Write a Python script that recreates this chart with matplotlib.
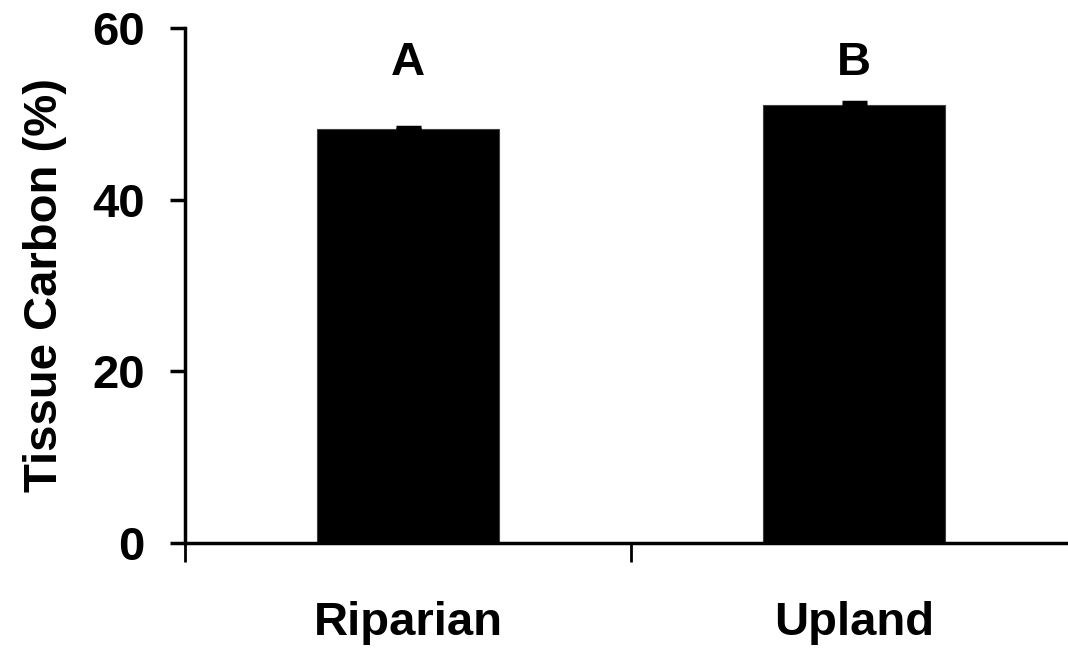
import matplotlib.pyplot as plt
import numpy as np

# Tissue carbon by site type, mean + SE
sites = ['Riparian', 'Upland']
carbon = [48.2, 51.0]
carbon_se = [0.25, 0.4]
letters = ['A', 'B']
yticks = [0, 20, 40, 60]

plt.rcParams['font.family'] = ['Liberation Sans', 'DejaVu Sans']
plt.rcParams['font.weight'] = 'bold'

fig = plt.figure(figsize=(10.68, 6.53), dpi=100)
ax = fig.add_axes([185 / 1068, (653 - 543) / 653, 892 / 1068, (543 - 28) / 653])

x = np.arange(len(sites)) + 0.5
ax.bar(x, carbon, width=0.406, color='black', edgecolor='#404040', linewidth=0.8, zorder=2)
ax.errorbar(x, carbon, yerr=[np.zeros(len(carbon)), carbon_se], fmt='none',
            ecolor='black', elinewidth=2, capsize=9, capthick=2.5, zorder=3)

for xi, lab in zip(x, letters):
    ax.text(xi, 55.9, lab, ha='center', va='center', fontsize=34, fontweight='bold')

ax.set_xlim(0, len(sites))
ax.set_ylim(0, 60)
ax.set_yticks(yticks)
ax.set_yticklabels([str(v) for v in yticks], fontsize=34, fontweight='bold')
ax.set_xticks(np.arange(len(sites) + 1))
ax.set_xticklabels([])
ax.set_xticks(x, minor=True)
ax.set_xticklabels(sites, minor=True, fontsize=34, fontweight='bold')
ax.tick_params(axis='x', which='major', direction='out', length=14, width=2)
ax.tick_params(axis='x', which='minor', length=0, pad=42)
ax.tick_params(axis='y', direction='out', length=11, width=2.5, pad=18)

ax.set_ylabel('Tissue Carbon (%)', fontsize=34, fontweight='bold', labelpad=18)

for side in ['top', 'right']:
    ax.spines[side].set_visible(False)
for side in ['left', 'bottom']:
    ax.spines[side].set_linewidth(2.5)

fig.savefig('out.png', dpi=100)
